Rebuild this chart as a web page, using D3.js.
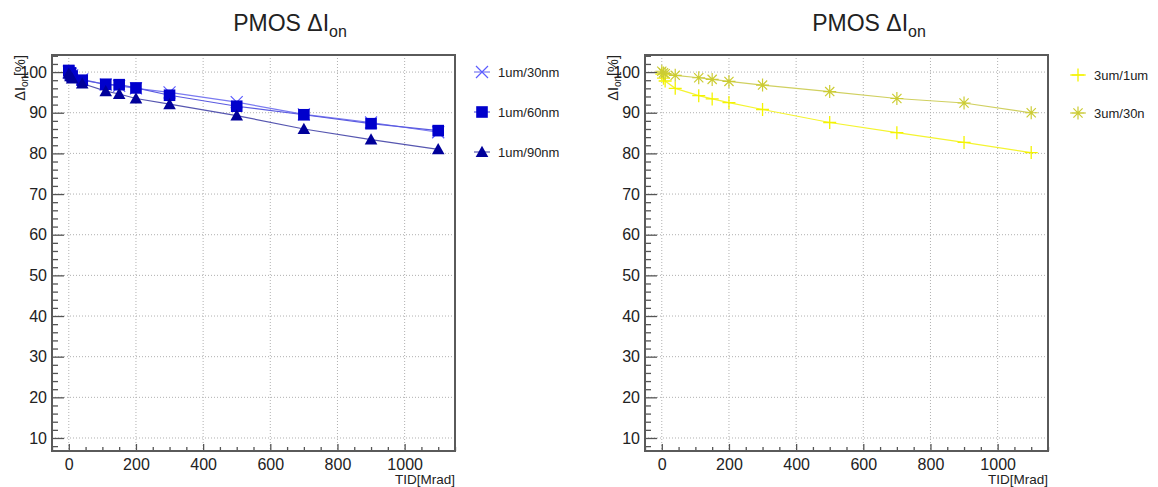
<!DOCTYPE html>
<html>
<head>
<meta charset="utf-8">
<script src="https://cdn.jsdelivr.net/npm/d3@7"></script>
<style>
  html, body { margin: 0; padding: 0; background: #fff; }
  svg { display: block; }
  text { font-family: "Liberation Sans", Arimo, Helvetica, Arial, sans-serif; fill: #222; }
</style>
</head>
<body>
<svg id="chart" width="1158" height="487"></svg>
<script>
// ---------- data ----------
const tid = [0, 5, 10, 40, 110, 150, 200, 300, 500, 700, 900, 1100];

const seriesLeftNames = ["1um/30nm", "1um/60nm", "1um/90nm"];
const um1_30nm = [100.1, 99.6, 99.2, 98.2, 96.9, 96.6, 96.0, 95.0, 92.6, 89.6, 87.6, 85.2];
const um1_60nm = [100.4, 99.8, 99.0, 98.0, 97.0, 96.9, 96.1, 94.3, 91.6, 89.5, 87.3, 85.6];
const um1_90nm = [99.6, 99.0, 98.4, 97.2, 95.3, 94.6, 93.5, 92.1, 89.3, 86.0, 83.4, 81.0];

const seriesRightNames = ["3um/1um", "3um/30n"];
const um3_1um = [99.5, 98.5, 97.8, 96.0, 94.2, 93.4, 92.5, 90.8, 87.6, 85.1, 82.7, 80.2];
const um3_30n = [100.2, 99.8, 99.6, 99.2, 98.6, 98.2, 97.7, 96.8, 95.2, 93.5, 92.4, 90.0];

const xTicks = [0, 200, 400, 600, 800, 1000];
const yTicks = [10, 20, 30, 40, 50, 60, 70, 80, 90, 100];
const titleMain = "PMOS ΔI";
const titleSub = "on";
const xTitle = "TID[Mrad]";

// ---------- drawing ----------
const svg = d3.select("#chart");
const FONT = '"Liberation Sans", Arimo, Helvetica, Arial, sans-serif';

function marker(g, type, color, x, y) {
  if (type === "x") {
    const s = 6;
    g.append("path").attr("d", `M${x-s},${y-s}L${x+s},${y+s}M${x-s},${y+s}L${x+s},${y-s}`)
      .attr("stroke", color).attr("stroke-width", 1.2).attr("fill", "none");
  } else if (type === "square") {
    const s = 5.8;
    g.append("rect").attr("x", x-s).attr("y", y-s).attr("width", 2*s).attr("height", 2*s).attr("fill", color);
  } else if (type === "triangle") {
    const s = 6.3;
    g.append("path").attr("d", `M${x},${y-s}L${x+s},${y+s*0.8}L${x-s},${y+s*0.8}Z`).attr("fill", color);
  } else if (type === "plus") {
    const s = 6.5;
    g.append("path").attr("d", `M${x-s},${y}L${x+s},${y}M${x},${y-s}L${x},${y+s}`)
      .attr("stroke", color).attr("stroke-width", 1.3).attr("fill", "none");
  } else if (type === "star") {
    const s = 6.5, d = 4.6;
    g.append("path").attr("d", `M${x-s},${y}L${x+s},${y}M${x},${y-s}L${x},${y+s}M${x-d},${y-d}L${x+d},${y+d}M${x-d},${y+d}L${x+d},${y-d}`)
      .attr("stroke", color).attr("stroke-width", 1.2).attr("fill", "none");
  }
}

function drawPanel(cfg) {
  const g = svg.append("g");
  const x = d3.scaleLinear().domain([-50, 1150]).range([cfg.left, cfg.left + 403]);
  const y = d3.scaleLinear().domain([6.8, 104.2]).range([451, 55]);
  const top = 55, bottom = 451, L = cfg.left, R = cfg.left + 403;

  // grid
  g.append("g").selectAll("line").data(xTicks).join("line")
    .attr("x1", d => x(d)).attr("x2", d => x(d)).attr("y1", top).attr("y2", bottom)
    .attr("stroke", "#b0b0b0").attr("stroke-width", 1).attr("stroke-dasharray", "1,2");
  g.append("g").selectAll("line").data(yTicks).join("line")
    .attr("y1", d => y(d)).attr("y2", d => y(d)).attr("x1", L).attr("x2", R)
    .attr("stroke", "#b0b0b0").attr("stroke-width", 1).attr("stroke-dasharray", "1,2");

  // axes ticks (inside)
  const yAxis = d3.axisLeft(y).tickValues(yTicks).tickSize(-12).tickPadding(5).tickFormat(d3.format("d"));
  const yMinor = d3.axisLeft(y).tickValues(d3.range(8, 104.2, 2).filter(v => v % 10 !== 0)).tickSize(-6).tickFormat("");
  const xAxis = d3.axisBottom(x).tickValues(xTicks).tickSize(-7).tickPadding(8).tickFormat(d3.format("d"));
  const xMinor = d3.axisBottom(x).tickValues(d3.range(-50, 1151, 50).filter(v => v % 200 !== 0)).tickSize(-4).tickFormat("");

  [[yAxis, `translate(${L},0)`], [yMinor, `translate(${L},0)`], [xAxis, `translate(0,${bottom})`], [xMinor, `translate(0,${bottom})`]]
    .forEach(([ax, tr]) => {
      const a = g.append("g").attr("transform", tr).call(ax);
      a.select(".domain").remove();
      a.selectAll(".tick line").attr("stroke", "#555").attr("stroke-width", 1.3);
      a.selectAll(".tick text").attr("font-size", 16).attr("fill", "#222").attr("font-family", FONT);
    });

  // frame
  g.append("rect").attr("x", L).attr("y", top).attr("width", R - L).attr("height", bottom - top)
    .attr("fill", "none").attr("stroke", "#5a5a5a").attr("stroke-width", 2);

  // series
  const line = d3.line().x((d, i) => x(tid[i])).y(d => y(d));
  cfg.series.forEach(s => {
    g.append("path").datum(s.values).attr("d", line)
      .attr("fill", "none").attr("stroke", s.lineColor).attr("stroke-width", 1.2);
  });
  cfg.series.forEach(s => {
    const mg = g.append("g");
    s.values.forEach((v, i) => marker(mg, s.type, s.color, x(tid[i]), y(v)));
  });

  // titles
  const t = g.append("text").attr("x", cfg.titleX).attr("y", 31).attr("text-anchor", "middle").attr("font-size", 23);
  t.append("tspan").text(titleMain);
  t.append("tspan").attr("dy", 6).attr("font-size", 16).text(titleSub);

  const yl = g.append("text").attr("transform", `translate(${L - 27},${top}) rotate(-90)`)
    .attr("text-anchor", "end").attr("font-size", 14.5);
  yl.append("tspan").text("ΔI");
  yl.append("tspan").attr("dy", 3).attr("font-size", 10).text("on");
  yl.append("tspan").attr("dy", -3).text("[%]");

  g.append("text").attr("x", R).attr("y", 484).attr("text-anchor", "end").attr("font-size", 13.5).text(xTitle);

  // legend
  cfg.series.forEach((s, i) => {
    const ly = cfg.legY[i];
    g.append("line").attr("x1", cfg.legX - 8).attr("x2", cfg.legX + 8).attr("y1", ly).attr("y2", ly)
      .attr("stroke", s.lineColor).attr("stroke-width", 1.2);
    marker(g, s.type, s.color, cfg.legX, ly);
    g.append("text").attr("x", cfg.legX + 16).attr("y", ly + 5).attr("font-size", 13).text(s.name);
  });
}

drawPanel({
  left: 52, titleX: 290, legX: 482, legY: [72, 112, 152],
  series: [
    { name: seriesLeftNames[0], values: um1_30nm, type: "x", color: "#5c5cff", lineColor: "#7a7af0" },
    { name: seriesLeftNames[1], values: um1_60nm, type: "square", color: "#0000cc", lineColor: "#5a5ae0" },
    { name: seriesLeftNames[2], values: um1_90nm, type: "triangle", color: "#00009a", lineColor: "#5656b0" }
  ]
});
drawPanel({
  left: 645, titleX: 869, legX: 1078, legY: [75, 113],
  series: [
    { name: seriesRightNames[0], values: um3_1um, type: "plus", color: "#f4f400", lineColor: "#f4f430" },
    { name: seriesRightNames[1], values: um3_30n, type: "star", color: "#cccc33", lineColor: "#d0d060" }
  ]
});
</script>
</body>
</html>
